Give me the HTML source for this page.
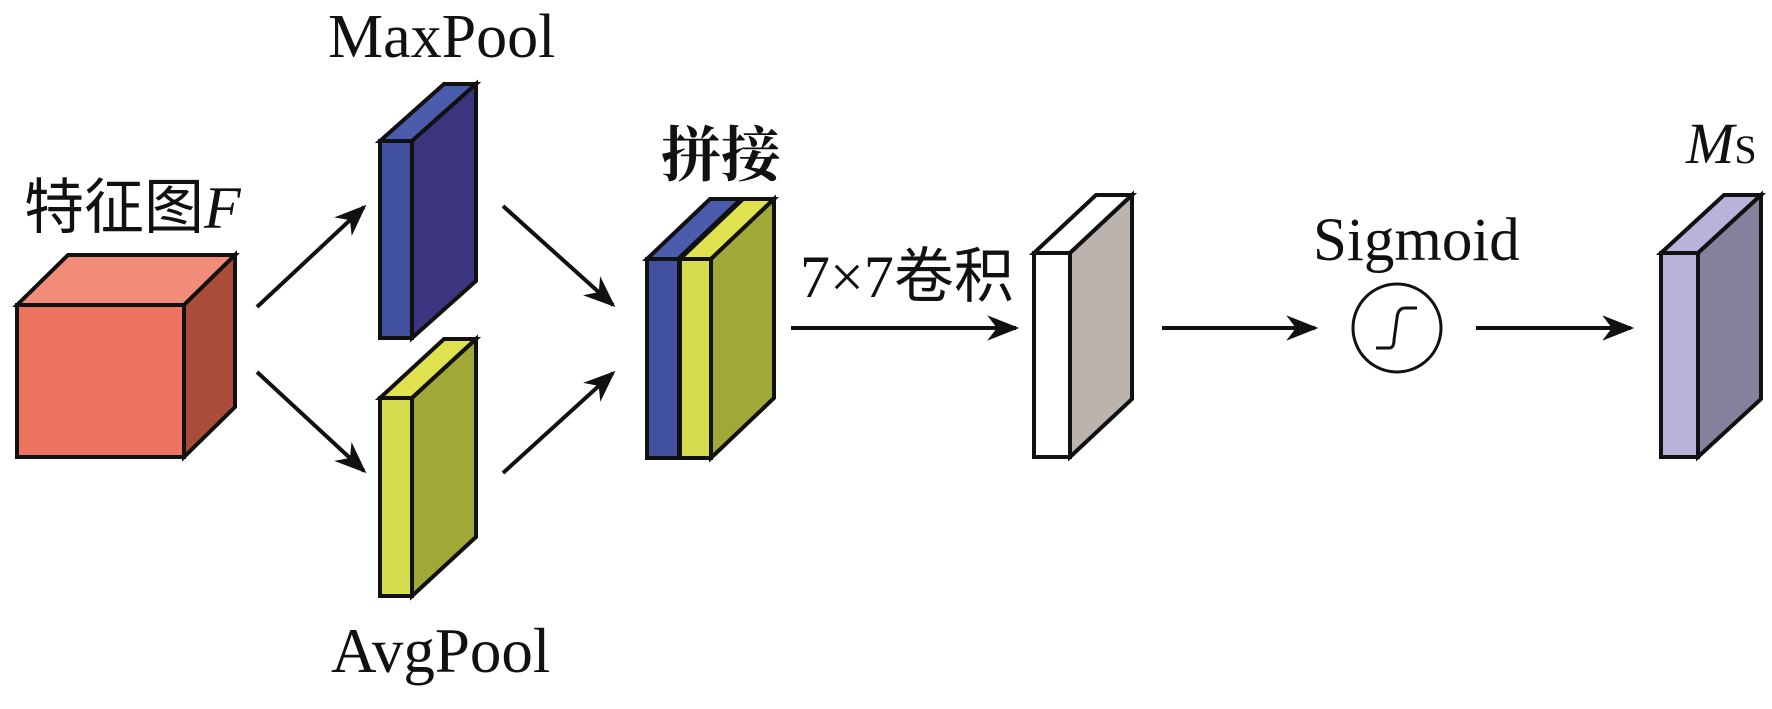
<!DOCTYPE html>
<html><head><meta charset="utf-8"><style>
html,body{margin:0;padding:0;background:#fff}
svg{display:block}
text{font-family:"Liberation Serif","Noto Serif CJK SC",serif;fill:#111}
.cj{font-family:"Liberation Serif","Noto Sans CJK SC",sans-serif}
</style></head><body>
<svg width="1772" height="709" viewBox="0 0 1772 709" xmlns="http://www.w3.org/2000/svg">
<defs>
<marker id="a" viewBox="0 0 10 10" refX="9" refY="5" markerWidth="8" markerHeight="8" orient="auto"><path d="M0,1 L10,5 L0,9 L3,5 z" fill="#111"/></marker>
</defs>
<g stroke="#111" stroke-width="4" stroke-linejoin="miter">
<polygon points="17,305 68,255 235,255 184,305" fill="#f08c78"/>
<polygon points="184,305 235,255 235,407 184,457" fill="#a94c3a"/>
<rect x="17" y="305" width="167" height="152" fill="#ee7462"/>
<polygon points="380,141 444,84 476,84 412,141" fill="#4a5cab"/>
<polygon points="412,141 476,84 476,281 412,338" fill="#3b3580"/>
<rect x="380" y="141" width="32" height="197" fill="#4250a0"/>
<polygon points="380,398 444,339 476,339 412,398" fill="#dfe24e"/>
<polygon points="412,398 476,339 476,537 412,596" fill="#a0a838"/>
<rect x="380" y="398" width="32" height="198" fill="#d5dc4e"/>
<polygon points="647,259 710,199 741,199 678,259" fill="#4a5cab"/>
<rect x="647" y="259" width="32" height="199" fill="#4250a0"/>
<polygon points="680,259 743,199 774,199 711,259" fill="#dfe24e"/>
<polygon points="711,259 774,199 774,398 711,458" fill="#a0a838"/>
<rect x="680" y="259" width="31" height="199" fill="#d5dc4e"/>
<polygon points="1034,253 1096,195 1132,195 1070,253" fill="#fff"/>
<polygon points="1070,253 1132,195 1132,399 1070,457" fill="#bab3ae"/>
<rect x="1034" y="253" width="36" height="204" fill="#fff"/>
<polygon points="1661,253 1724,195 1761,195 1698,253" fill="#b8b3d8"/>
<polygon points="1698,253 1761,195 1761,399 1698,457" fill="#86809c"/>
<rect x="1661" y="253" width="37" height="204" fill="#b8b3d8"/>
</g>
<g stroke="#111" stroke-width="4" fill="none" marker-end="url(#a)">
<line x1="257" y1="307" x2="364" y2="207"/>
<line x1="257" y1="372" x2="364" y2="471"/>
<line x1="503" y1="206" x2="613" y2="305"/>
<line x1="503" y1="473" x2="613" y2="373"/>
<line x1="791" y1="328" x2="1016" y2="328"/>
<line x1="1162" y1="328" x2="1315" y2="328"/>
<line x1="1476" y1="328" x2="1631" y2="328"/>
</g>
<circle cx="1397" cy="328" r="44" fill="none" stroke="#111" stroke-width="3"/>
<path d="M1376,348 L1389,348 Q1394,348 1394,340 L1397,318 Q1398,308 1405,308 L1417,308" fill="none" stroke="#111" stroke-width="3"/>
<text x="328" y="57" font-size="62">MaxPool</text>
<text x="331" y="672" font-size="63">AvgPool</text>
<text x="24" y="228" font-size="60" class="cj">特征图<tspan font-family="Liberation Serif" font-style="italic">F</tspan></text>
<text x="661" y="176" font-size="60" font-family="Noto Serif CJK SC, serif" font-weight="bold">拼接</text>
<text x="800" y="297" font-size="60" class="cj"><tspan font-family="Liberation Serif">7×7</tspan>卷积</text>
<text x="1313" y="260" font-size="61">Sigmoid</text>
<text x="1686" y="163" font-size="58" font-style="italic">M<tspan font-style="normal" font-size="40">S</tspan></text>
</svg>
</body></html>
